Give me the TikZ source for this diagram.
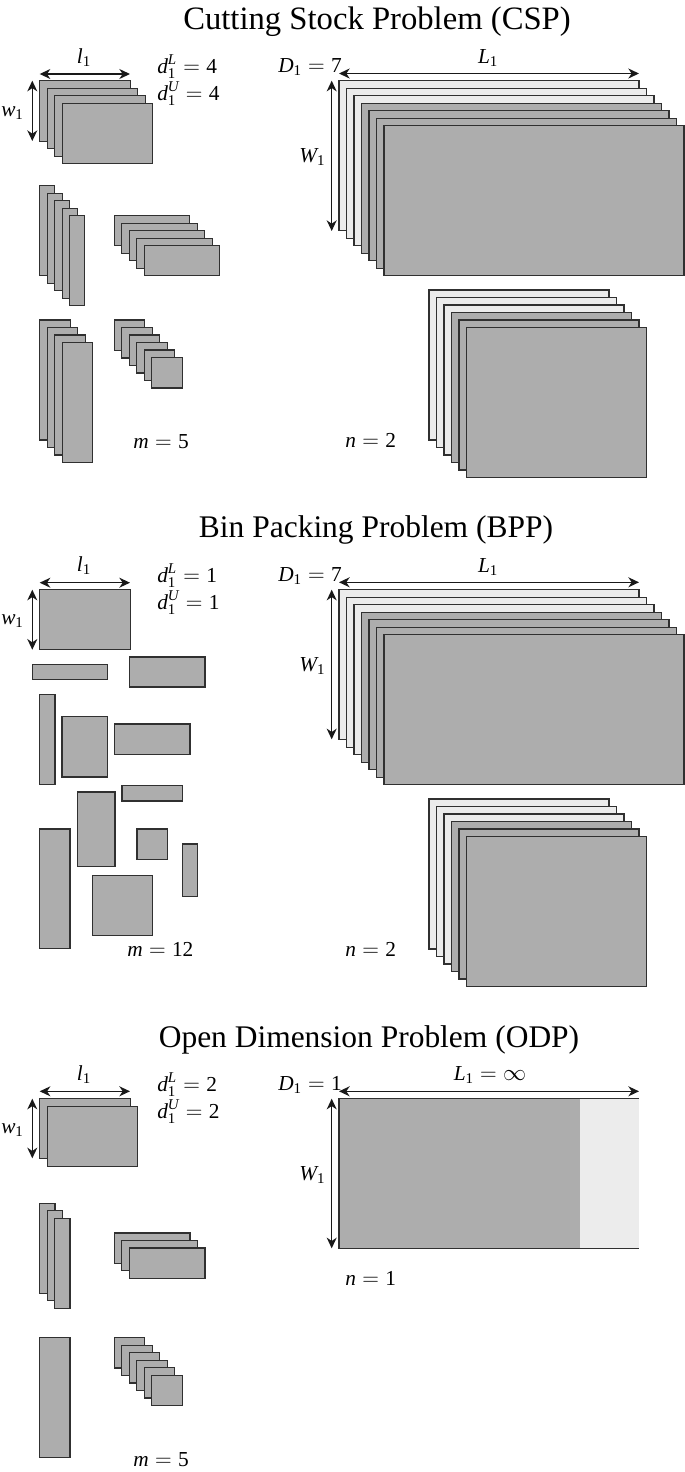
\documentclass[tikz,border=0pt]{standalone}
\usepackage{fontspec}
\setmainfont{Liberation Serif}
\usetikzlibrary{arrows.meta,positioning,calc}
\definecolor{itemgray}{HTML}{ADADAD}
\definecolor{sparelight}{HTML}{ECECEC}
\definecolor{edgedark}{HTML}{303030}
\newcommand{\vi}[1]{\mathit{#1}}
\newcommand{\dg}[1]{\mathrm{#1}}
\newcommand{\rectstack}[6][itembox]{%
  \foreach \k in {1,...,#6}
    \draw[#1] ({#2+(\k-1)*7.5},{#3+(\k-1)*7.5}) rectangle ++(#4,#5);}
\tikzset{
  itembox/.style={draw=edgedark,fill=itemgray,line width=1pt},
  sparebox/.style={draw=edgedark,fill=sparelight,line width=1pt},
  dimarrow/.style={draw=black!90,line width=0.95pt,
    {Stealth[length=8pt,width=7.5pt,inset=2.5pt]}-{Stealth[length=8pt,width=7.5pt,inset=2.5pt]}},
  titlelabel/.style={anchor=base,inner sep=0pt,font=\fontsize{24.5}{28}\selectfont},
  subtitlelabel/.style={anchor=base,inner sep=0pt,font=\fontsize{23.6}{28}\selectfont},
  mathlabel/.style={anchor=base west,inner sep=0pt,font=\fontsize{16}{19}\selectfont},
  sizelabel/.style={anchor=base,inner sep=0pt,font=\fontsize{16}{19}\selectfont}
}
\begin{document}
\begin{tikzpicture}[x=0.75pt,y=-0.75pt]
  \useasboundingbox (0,0) rectangle (685,1472);
  % Cutting stock
  \node[titlelabel] (cspTitle) at (377,29) {Cutting Stock Problem (CSP)};
  \rectstack{39.7}{80.7}{90.5}{60.5}{4}
  \rectstack{39.7}{185.7}{15}{90}{5}
  \rectstack{114.3}{215.7}{75.5}{30}{5}
  \rectstack{39.7}{320}{30.5}{120}{4}
  \rectstack{114.3}{320}{30.5}{30.5}{6}
  \rectstack[sparebox]{339}{80.7}{300}{150}{3}
  \rectstack{361.5}{103.2}{300}{150}{4}
  \rectstack[sparebox]{429}{290}{180}{150}{3}
  \rectstack{451.5}{312.5}{180}{150}{3}
  \coordinate (cspLa) at (39.7,74);
  \coordinate (cspLb) at (130,74);
  \coordinate (cspWa) at (32.3,80.7);
  \coordinate (cspWb) at (32.3,141);
  \coordinate (cspBLa) at (339,73.5);
  \coordinate (cspBLb) at (639,73.5);
  \coordinate (cspBWa) at (331.7,80.7);
  \coordinate (cspBWb) at (331.7,231);
  \draw[dimarrow] (cspLa) -- (cspLb);
  \draw[dimarrow] (cspWa) -- (cspWb);
  \draw[dimarrow] (cspBLa) -- (cspBLb);
  \draw[dimarrow] (cspBWa) -- (cspBWb);
  \node[sizelabel] (cspL) at (84,63) {$\vi{l}_{\dg{1}}$};
  \node[mathlabel] (cspW) at (1,116) {$\vi{w}_{\dg{1}}$};
  \node[mathlabel] (cspDl) at (157,73) {$\vi{d}_{\dg{1}}^{\vi{L}}=\dg{4}$};
  \node[mathlabel] (cspDu) at (157,100) {$\vi{d}_{\dg{1}}^{\vi{U}}=\dg{4}$};
  \node[mathlabel] (cspD) at (278,72) {$\vi{D}_{\dg{1}}=\dg{7}$};
  \node[sizelabel] (cspBL) at (488,63) {$\vi{L}_{\dg{1}}$};
  \node[mathlabel] (cspBW) at (299,162) {$\vi{W}_{\dg{1}}$};
  \node[mathlabel] (cspM) at (133,448) {$\vi{m}=\dg{5}$};
  \node[mathlabel] (cspN) at (345,447) {$\vi{n}=\dg{2}$};
  % Bin packing
  \node[subtitlelabel] (bppTitle) at (376,537) {Bin Packing Problem (BPP)};
  \rectstack{39.7}{589.7}{90.5}{60}{1}
  \rectstack{32.3}{664.3}{75.4}{15.4}{1}
  \rectstack{129.3}{657}{75.7}{30}{1}
  \rectstack{39.7}{694.3}{15.3}{90.4}{1}
  \rectstack{62}{716.7}{45.7}{60.3}{1}
  \rectstack{114.3}{724}{75.7}{30.3}{1}
  \rectstack{122}{785.7}{60.7}{15.3}{1}
  \rectstack{77.3}{792}{37.7}{74.7}{1}
  \rectstack{137}{829}{30.7}{30.3}{1}
  \rectstack{182.3}{844}{15.4}{52.7}{1}
  \rectstack{39.7}{829}{30.3}{119.7}{1}
  \rectstack{92.3}{875.3}{60.4}{60}{1}
  \rectstack[sparebox]{339}{589.7}{300}{150}{3}
  \rectstack{361.5}{612.2}{300}{150}{4}
  \rectstack[sparebox]{429}{799}{180}{150}{3}
  \rectstack{451.5}{821.5}{180}{150}{3}
  \coordinate (bppLa) at (39.7,582.7);
  \coordinate (bppLb) at (130,582.7);
  \coordinate (bppWa) at (32.3,589.7);
  \coordinate (bppWb) at (32.3,649.7);
  \coordinate (bppBLa) at (339,582.3);
  \coordinate (bppBLb) at (639,582.3);
  \coordinate (bppBWa) at (331.7,589.7);
  \coordinate (bppBWb) at (331.7,739.3);
  \draw[dimarrow] (bppLa) -- (bppLb);
  \draw[dimarrow] (bppWa) -- (bppWb);
  \draw[dimarrow] (bppBLa) -- (bppBLb);
  \draw[dimarrow] (bppBWa) -- (bppBWb);
  \node[sizelabel] (bppL) at (84,571) {$\vi{l}_{\dg{1}}$};
  \node[mathlabel] (bppW) at (1,624) {$\vi{w}_{\dg{1}}$};
  \node[mathlabel] (bppDl) at (157,582) {$\vi{d}_{\dg{1}}^{\vi{L}}=\dg{1}$};
  \node[mathlabel] (bppDu) at (157,609) {$\vi{d}_{\dg{1}}^{\vi{U}}=\dg{1}$};
  \node[mathlabel] (bppD) at (278,581) {$\vi{D}_{\dg{1}}=\dg{7}$};
  \node[sizelabel] (bppBL) at (488,572) {$\vi{L}_{\dg{1}}$};
  \node[mathlabel] (bppBW) at (299,671) {$\vi{W}_{\dg{1}}$};
  \node[mathlabel] (bppM) at (127,956) {$\vi{m}=\dg{12}$};
  \node[mathlabel] (bppN) at (345,956) {$\vi{n}=\dg{2}$};
  % Open dimension
  \node[subtitlelabel] (odpTitle) at (369,1047) {Open Dimension Problem (ODP)};
  \rectstack{39.7}{1098.7}{90.5}{60}{2}
  \rectstack{39.7}{1203.3}{15.3}{90}{3}
  \rectstack{114.3}{1233}{75.7}{30.3}{3}
  \rectstack{39.7}{1337.7}{30.3}{120}{1}
  \rectstack{114.3}{1337.7}{30.5}{30.3}{6}
  \fill[itemgray] (339,1098.7) rectangle (580,1248.3);
  \fill[sparelight] (580,1098.7) rectangle (639,1248.3);
  \draw[edgedark,line width=1pt] (639,1098.7) -- (339,1098.7) -- (339,1248.3) -- (639,1248.3);
  \coordinate (odpLa) at (39.7,1091.3);
  \coordinate (odpLb) at (130,1091.3);
  \coordinate (odpWa) at (32.3,1098.7);
  \coordinate (odpWb) at (32.3,1158.3);
  \coordinate (odpBLa) at (339,1091.3);
  \coordinate (odpBLb) at (639,1091.3);
  \coordinate (odpBWa) at (331.7,1098.7);
  \coordinate (odpBWb) at (331.7,1248.3);
  \draw[dimarrow] (odpLa) -- (odpLb);
  \draw[dimarrow] (odpWa) -- (odpWb);
  \draw[dimarrow] (odpBLa) -- (odpBLb);
  \draw[dimarrow] (odpBWa) -- (odpBWb);
  \node[sizelabel] (odpL) at (84,1080) {$\vi{l}_{\dg{1}}$};
  \node[mathlabel] (odpW) at (1,1133) {$\vi{w}_{\dg{1}}$};
  \node[mathlabel] (odpDl) at (157,1091) {$\vi{d}_{\dg{1}}^{\vi{L}}=\dg{2}$};
  \node[mathlabel] (odpDu) at (157,1118) {$\vi{d}_{\dg{1}}^{\vi{U}}=\dg{2}$};
  \node[mathlabel] (odpD) at (278,1090) {$\vi{D}_{\dg{1}}=\dg{1}$};
  \node[sizelabel] (odpBL) at (490,1080) {$\vi{L}_{\dg{1}}=\infty$};
  \node[mathlabel] (odpBW) at (299,1180) {$\vi{W}_{\dg{1}}$};
  \node[mathlabel] (odpM) at (133,1466) {$\vi{m}=\dg{5}$};
  \node[mathlabel] (odpN) at (345,1285) {$\vi{n}=\dg{1}$};
\end{tikzpicture}
\end{document}
